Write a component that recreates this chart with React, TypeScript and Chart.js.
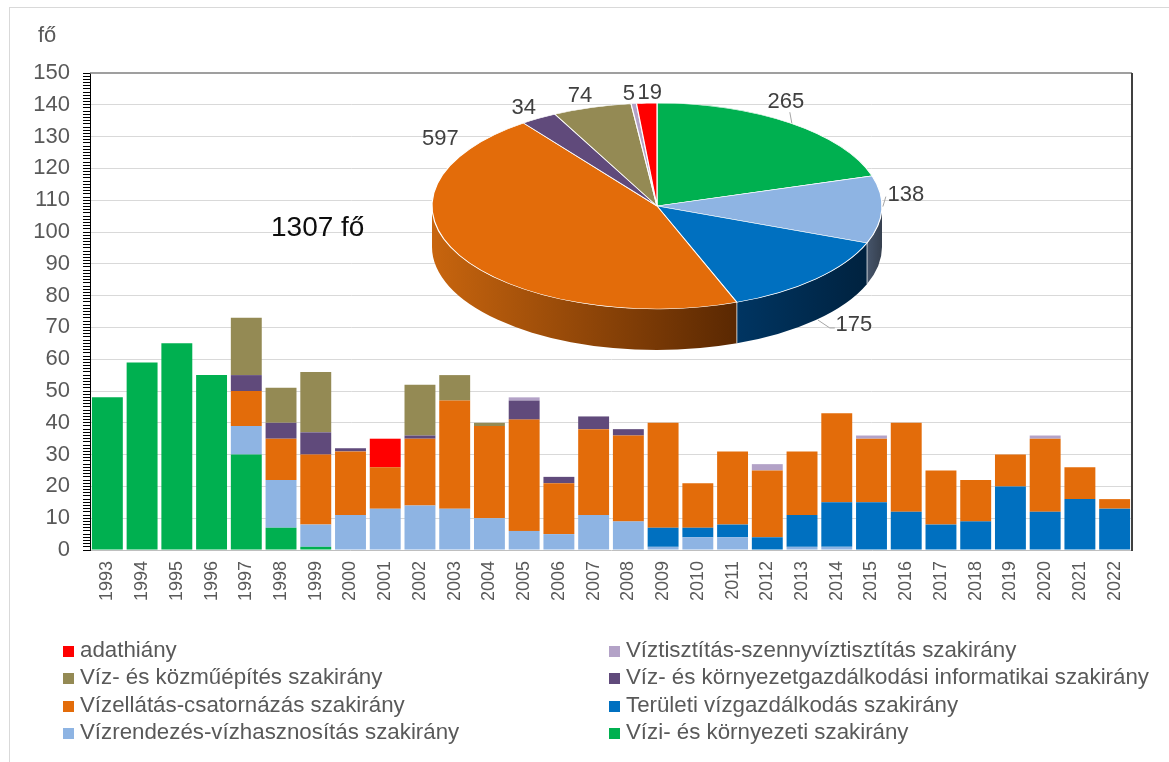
import React, { useEffect, useRef } from 'react';
import { Chart, registerables } from 'chart.js';

Chart.register(...registerables);

const FONT = '"Liberation Sans", Arial, Helvetica, sans-serif';

// ---------- DATA ----------
const years = [
  '1993', '1994', '1995', '1996', '1997', '1998', '1999', '2000', '2001', '2002',
  '2003', '2004', '2005', '2006', '2007', '2008', '2009', '2010', '2011', '2012',
  '2013', '2014', '2015', '2016', '2017', '2018', '2019', '2020', '2021', '2022',
];

// stack order: bottom -> top
const viziKornyezeti = [48, 59, 65, 55, 30, 7, 1, 0, 0, 0, 0, 0, 0, 0, 0, 0, 0, 0, 0, 0, 0, 0, 0, 0, 0, 0, 0, 0, 0, 0];
const vizrendezes = [0, 0, 0, 0, 9, 15, 7, 11, 13, 14, 13, 10, 6, 5, 11, 9, 1, 4, 4, 0, 1, 1, 0, 0, 0, 0, 0, 0, 0, 0];
const teruleti = [0, 0, 0, 0, 0, 0, 0, 0, 0, 0, 0, 0, 0, 0, 0, 0, 6, 3, 4, 4, 10, 14, 15, 12, 8, 9, 20, 12, 16, 13];
const vizellatas = [0, 0, 0, 0, 11, 13, 22, 20, 13, 21, 34, 29, 35, 16, 27, 27, 33, 14, 23, 21, 20, 28, 20, 28, 17, 13, 10, 23, 10, 3];
const informatikai = [0, 0, 0, 0, 5, 5, 7, 1, 0, 1, 0, 0, 6, 2, 4, 2, 0, 0, 0, 0, 0, 0, 0, 0, 0, 0, 0, 0, 0, 0];
const kozmuepites = [0, 0, 0, 0, 18, 11, 19, 0, 0, 16, 8, 1, 0, 0, 0, 0, 0, 0, 0, 0, 0, 0, 0, 0, 0, 0, 0, 0, 0, 0];
const viztisztitas = [0, 0, 0, 0, 0, 0, 0, 0, 0, 0, 0, 0, 1, 0, 0, 0, 0, 0, 0, 2, 0, 0, 1, 0, 0, 0, 0, 1, 0, 0];
const adathiany = [0, 0, 0, 0, 0, 0, 0, 0, 9, 0, 0, 0, 0, 0, 0, 0, 0, 0, 0, 0, 0, 0, 0, 0, 0, 0, 0, 0, 0, 0];

const seriesNames = [
  'Vízi- és környezeti szakirány',
  'Vízrendezés-vízhasznosítás szakirány',
  'Területi vízgazdálkodás szakirány',
  'Vízellátás-csatornázás szakirány',
  'Víz- és környezetgazdálkodási informatikai szakirány',
  'Víz- és közműépítés szakirány',
  'Víztisztítás-szennyvíztisztítás szakirány',
  'adathiány',
];
const seriesValues = [viziKornyezeti, vizrendezes, teruleti, vizellatas, informatikai, kozmuepites, viztisztitas, adathiany];
const seriesColors = ['#00B050', '#8EB4E3', '#0070C0', '#E36C0A', '#604A7B', '#948A54', '#B3A2C7', '#FF0000'];

// pie (clockwise from 12 o'clock), same series order
const pieValues = [265, 138, 175, 597, 34, 74, 5, 19];
const totalLabel = '1307 fő';
const unitLabel = 'fő';

// legend layout: two columns (indices into series arrays)
const legendLeftCol = [7, 5, 3, 1];
const legendRightCol = [6, 4, 2, 0];

// ---------- STYLE / LAYOUT ----------
const SQUASH = 103 / 225;
const DEPTH = 41;
const wallLight = ['#00803a', '#46556b', '#003562', '#C8650E', '#3d2d50', '#6b6236', '#7d6d90', '#b00000'];
const wallDark = ['#00602c', '#36404f', '#00223f', '#5A2802', '#2a1f38', '#4d4626', '#5d506b', '#800000'];
const labelNudge: [number, number][] = [
  [-5, -21], [24, -15], [38, 46], [-19, -116], [-15, -10], [-12, -11], [-5, -10], [3, -10],
];
const leaderFor = [true, true, true, false, false, false, false, false];

const framePlugin = {
  id: 'frame',
  afterDraw(chart: any) {
    const { ctx, chartArea: a } = chart;
    ctx.save();
    ctx.strokeStyle = '#7f7f7f';
    ctx.lineWidth = 1.5;
    ctx.beginPath();
    ctx.moveTo(a.left, a.top);
    ctx.lineTo(a.right, a.top);
    ctx.stroke();
    ctx.strokeStyle = '#404040';
    ctx.lineWidth = 2;
    ctx.beginPath();
    ctx.moveTo(a.right, a.top);
    ctx.lineTo(a.right, a.bottom + 1);
    ctx.stroke();
    ctx.restore();
  },
};

const pie3dPlugin = {
  id: 'pie3d',
  beforeDatasetsDraw(chart: any) {
    const ctx = chart.ctx as CanvasRenderingContext2D;
    const arcs = chart.getDatasetMeta(0).data as any[];
    ctx.save();
    if (!arcs.length) return;
    const cx = arcs[0].x;
    const cy = arcs[0].y;
    const r = arcs[0].outerRadius;
    const ry = r * SQUASH;
    arcs.forEach((arc: any, i: number) => {
      const a1 = Math.max(arc.startAngle, 0);
      const a2 = Math.min(arc.endAngle, Math.PI);
      if (a2 <= a1) return;
      const xl = cx + r * Math.cos(a2);
      const xr = cx + r * Math.cos(a1);
      const g = ctx.createLinearGradient(xl, 0, xr, 0);
      g.addColorStop(0, wallLight[i]);
      g.addColorStop(1, wallDark[i]);
      ctx.beginPath();
      ctx.ellipse(cx, cy, r, ry, 0, a1, a2);
      ctx.ellipse(cx, cy + DEPTH, r, ry, 0, a2, a1, true);
      ctx.closePath();
      ctx.fillStyle = g;
      ctx.fill();
      if (arc.startAngle > 0 && arc.startAngle < Math.PI) {
        const x = cx + r * Math.cos(arc.startAngle);
        const y = cy + ry * Math.sin(arc.startAngle);
        ctx.strokeStyle = 'rgba(255,255,255,0.7)';
        ctx.lineWidth = 1;
        ctx.beginPath();
        ctx.moveTo(x, y);
        ctx.lineTo(x, y + DEPTH);
        ctx.stroke();
      }
    });
    ctx.translate(cx, cy);
    ctx.scale(1, SQUASH);
    ctx.translate(-cx, -cy);
  },
  afterDatasetsDraw(chart: any) {
    const ctx = chart.ctx as CanvasRenderingContext2D;
    ctx.restore();
    const arcs = chart.getDatasetMeta(0).data as any[];
    if (!arcs.length) return;
    const cx = arcs[0].x;
    const cy = arcs[0].y;
    const r = arcs[0].outerRadius;
    const ry = r * SQUASH;
    ctx.save();
    ctx.font = `22px ${FONT}`;
    ctx.textAlign = 'center';
    ctx.textBaseline = 'middle';
    arcs.forEach((arc: any, i: number) => {
      const mid = (arc.startAngle + arc.endAngle) / 2;
      const bx = cx + r * Math.cos(mid);
      const by = cy + ry * Math.sin(mid);
      const lx = bx + labelNudge[i][0];
      const ly = by + labelNudge[i][1];
      if (leaderFor[i]) {
        ctx.strokeStyle = '#a6a6a6';
        ctx.lineWidth = 1;
        ctx.beginPath();
        if (i === 2) {
          ctx.moveTo(bx + 2, by + DEPTH);
          ctx.lineTo(lx - 24, ly + 3);
          ctx.lineTo(lx - 19, ly + 3);
        } else if (i === 0) {
          ctx.moveTo(bx + 1, by);
          ctx.lineTo(lx + 4, ly + 10);
        } else {
          ctx.moveTo(bx + 1, by - 3);
          ctx.lineTo(lx - 20, ly + 2);
        }
        ctx.stroke();
      }
      ctx.fillStyle = '#404040';
      ctx.fillText(String(pieValues[i]), lx, ly);
    });
    ctx.restore();
  },
};

export default function App() {
  const barRef = useRef<HTMLCanvasElement>(null);
  const pieRef = useRef<HTMLCanvasElement>(null);

  useEffect(() => {
    const bar = new Chart(barRef.current as HTMLCanvasElement, {
      type: 'bar',
      data: {
        labels: years,
        datasets: seriesValues.map((vals, i) => ({
          label: seriesNames[i],
          data: vals,
          backgroundColor: seriesColors[i],
          borderWidth: 0,
          barPercentage: 0.89,
          categoryPercentage: 1.0,
        })),
      },
      options: {
        responsive: false,
        animation: false,
        layout: { padding: { left: 0, top: 73, right: 37, bottom: 0 } },
        plugins: { legend: { display: false }, tooltip: { enabled: false } },
        scales: {
          x: {
            stacked: true,
            grid: { display: false, drawTicks: false },
            border: { display: true, color: '#bfbfbf', width: 1 },
            ticks: {
              minRotation: 90,
              maxRotation: 90,
              autoSkip: false,
              padding: 11,
              color: '#595959',
              font: { size: 18, family: FONT },
            },
            afterFit: (s: any) => {
              s.height = 90;
            },
          },
          y: {
            stacked: true,
            min: 0,
            max: 150,
            ticks: {
              stepSize: 1,
              autoSkip: false,
              maxTicksLimit: 200,
              padding: 13,
              color: '#595959',
              font: { size: 22, family: FONT },
              callback: (v: any) => (Number(v) % 10 === 0 ? String(v) : ''),
            },
            grid: {
              color: (c: any) =>
                c.tick && c.tick.value % 10 === 0 && c.tick.value !== 0 && c.tick.value !== 150
                  ? '#d9d9d9'
                  : 'rgba(0,0,0,0)',
              tickColor: '#000000',
              tickLength: 7,
              lineWidth: 1,
            },
            border: { display: true, color: '#000000', width: 1 },
            afterFit: (s: any) => {
              s.width = 90;
            },
          },
        },
      },
      plugins: [framePlugin],
    });

    const pie = new Chart(pieRef.current as HTMLCanvasElement, {
      type: 'pie',
      data: {
        labels: seriesNames,
        datasets: [
          {
            data: pieValues,
            backgroundColor: seriesColors,
            borderColor: '#ffffff',
            borderWidth: 1.2,
            radius: 225,
          } as any,
        ],
      },
      options: {
        responsive: false,
        animation: false,
        layout: { padding: 0 },
        plugins: { legend: { display: false }, tooltip: { enabled: false } },
      },
      plugins: [pie3dPlugin],
    });

    return () => {
      bar.destroy();
      pie.destroy();
    };
  }, []);

  const legendItem = (idx: number) => (
    <div
      key={idx}
      style={{ height: 27.4, lineHeight: '27.4px', whiteSpace: 'nowrap', fontSize: 22.3, color: '#595959' }}
    >
      <span
        style={{
          display: 'inline-block',
          width: 11,
          height: 11,
          background: seriesColors[idx],
          marginRight: 6,
          verticalAlign: 'baseline',
        }}
      />
      {seriesNames[idx]}
    </div>
  );

  return (
    <div
      style={{
        position: 'absolute',
        left: 0,
        top: 0,
        width: 1169,
        height: 762,
        overflow: 'hidden',
        background: '#ffffff',
        fontFamily: FONT,
      }}
    >
      <div
        style={{
          position: 'absolute',
          left: 9,
          top: 7,
          width: 1200,
          height: 800,
          border: '1px solid #d9d9d9',
        }}
      />
      <canvas ref={barRef} width={1169} height={640} style={{ position: 'absolute', left: 0, top: 0 }} />
      <canvas ref={pieRef} width={560} height={412} style={{ position: 'absolute', left: 377, top: 0 }} />
      <div style={{ position: 'absolute', left: 38, top: 24, fontSize: 22, lineHeight: '22px', color: '#595959' }}>
        {unitLabel}
      </div>
      <div style={{ position: 'absolute', left: 271, top: 213, fontSize: 28, lineHeight: '28px', color: '#0d0d0d' }}>
        {totalLabel}
      </div>
      <div style={{ position: 'absolute', left: 63, top: 636 }}>{legendLeftCol.map(legendItem)}</div>
      <div style={{ position: 'absolute', left: 609, top: 636 }}>{legendRightCol.map(legendItem)}</div>
    </div>
  );
}
